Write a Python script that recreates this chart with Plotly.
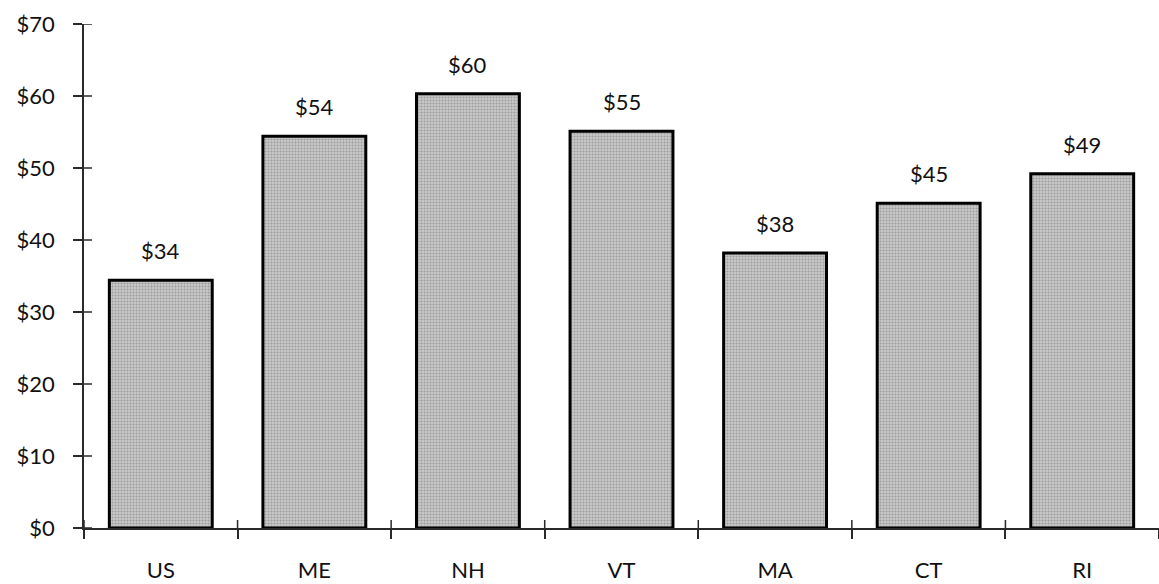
import plotly.graph_objects as go

# Average spending per region, US and New England states
regions = ["US", "ME", "NH", "VT", "MA", "CT", "RI"]
amounts = [34.4, 54.4, 60.3, 55.1, 38.2, 45.1, 49.2]
y_ticks = [0, 10, 20, 30, 40, 50, 60, 70]
y_tick_text = ["$0", "$10", "$20", "$30", "$40", "$50", "$60", "$70"]

FONT = "Lato, 'Noto Sans', sans-serif"
TXT = "#111111"
AX = "#2a2a2a"

fig = go.Figure()

fig.add_trace(go.Bar(
    x=regions,
    y=amounts,
    width=0.67,
    marker=dict(
        color="#bdbdbd",
        line=dict(color="#000000", width=3),
        pattern=dict(shape=".", bgcolor="#c9c9c9", fgcolor="#707070",
                     size=3, solidity=0.4, fillmode="overlay"),
    ),
    hoverinfo="skip",
))

for r, a in zip(regions, amounts):
    fig.add_annotation(x=r, y=a, text=f"${a:.0f}", showarrow=False,
                       yanchor="bottom", yshift=14,
                       font=dict(family=FONT, size=22, color=TXT))

# inner halves of the crossing tick marks (axis ticks draw the outer halves)
n = len(regions)
for i in range(n):
    fig.add_shape(type="line", xref="x", yref="y",
                  x0=i - 0.5, x1=i - 0.5, y0=0, y1=8,
                  ysizemode="pixel", yanchor=0,
                  line=dict(color=AX, width=1.5))
for t in y_ticks:
    fig.add_shape(type="line", xref="x", yref="y",
                  x0=0, x1=8, y0=t, y1=t,
                  xsizemode="pixel", xanchor=-0.5,
                  line=dict(color=AX, width=1.5))

fig.update_layout(
    width=1159, height=584,
    margin=dict(l=84, r=0, t=24, b=56),
    paper_bgcolor="white", plot_bgcolor="white",
    showlegend=False,
    font=dict(family=FONT, size=22, color=TXT),
    xaxis=dict(
        type="category", categoryorder="array", categoryarray=regions,
        range=[-0.5, n - 0.5],
        showline=True, linecolor=AX, linewidth=1.5,
        ticks="outside", ticklen=9, tickcolor=AX, tickwidth=1.5,
        tickson="boundaries", showgrid=False, zeroline=False,
        ticklabelstandoff=22,
        tickfont=dict(family=FONT, size=22, color=TXT),
    ),
    yaxis=dict(
        range=[0, 70], tickvals=y_ticks, ticktext=y_tick_text,
        showline=True, linecolor=AX, linewidth=1.5,
        ticks="outside", ticklen=9, tickcolor=AX, tickwidth=1.5,
        showgrid=False, zeroline=False,
        ticklabelstandoff=14,
        tickfont=dict(family=FONT, size=22, color=TXT),
    ),
)

fig.write_html("out.html")
